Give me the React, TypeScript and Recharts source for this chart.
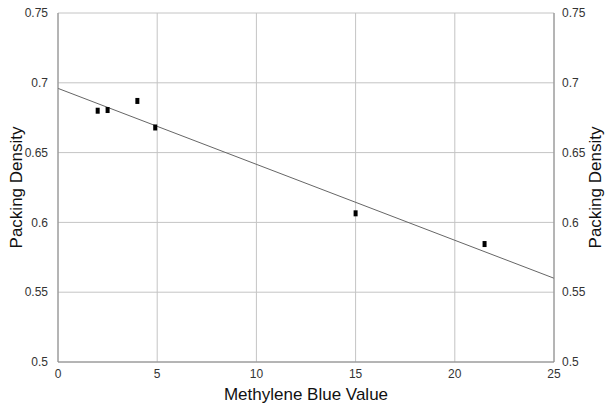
import {
  ComposedChart,
  Scatter,
  Line,
  XAxis,
  YAxis,
  CartesianGrid,
  Label,
} from 'recharts';

const mbValues = [2, 2.5, 4, 4.9, 15, 21.5];
const packingDensity = [0.68, 0.6805, 0.687, 0.668, 0.6065, 0.5845];

const trendX = [0, 25];
const trendY = [0.696, 0.56];

const xTicks = [0, 5, 10, 15, 20, 25];
const yTicks = [0.5, 0.55, 0.6, 0.65, 0.7, 0.75];

const points = mbValues.map((x, i) => ({ x, y: packingDensity[i] }));
const trend = trendX.map((x, i) => ({ x, t: trendY[i] }));

const FONT = '"Liberation Sans", Arial, sans-serif';

const Marker = (props: any) => {
  const { cx, cy } = props;
  if (cx == null || cy == null) return null;
  return <rect x={cx - 2} y={cy - 3} width={4} height={6} fill="#000" />;
};

export default function App() {
  const tick = { fontSize: 12, fill: '#333', fontFamily: FONT };
  const axisLabel = { fontSize: 17, fill: '#111', fontFamily: FONT, textAnchor: 'middle' as const };
  return (
    <div style={{ position: 'absolute', left: 0, top: 0, background: '#fff' }}>
      <ComposedChart
        width={606}
        height={403}
        margin={{ top: 13, right: 0, bottom: 0, left: 0 }}
      >
        <CartesianGrid yAxisId="left" stroke="#c4c4c4" strokeWidth={1} />
        <XAxis
          dataKey="x"
          type="number"
          domain={[0, 25]}
          ticks={xTicks}
          tick={tick}
          tickLine={false}
          axisLine={{ stroke: '#888' }}
          height={41}
          tickMargin={1}
          allowDuplicatedCategory={false}
        >
          <Label
            value="Methylene Blue Value"
            position="insideBottom"
            offset={3}
            style={{ fontSize: 17, fill: '#111', fontFamily: FONT }}
          />
        </XAxis>
        <YAxis
          yAxisId="left"
          type="number"
          domain={[0.5, 0.75]}
          ticks={yTicks}
          tick={tick}
          tickLine={false}
          axisLine={{ stroke: '#888' }}
          width={58}
          tickMargin={4}
        >
          <Label
            value="Packing Density"
            angle={-90}
            position="insideLeft"
            offset={16}
            style={axisLabel}
          />
        </YAxis>
        <YAxis
          yAxisId="right"
          orientation="right"
          type="number"
          domain={[0.5, 0.75]}
          ticks={yTicks}
          tick={tick}
          tickLine={false}
          axisLine={{ stroke: '#888' }}
          width={52}
          tickMargin={2}
        >
          <Label
            value="Packing Density"
            angle={-90}
            position="insideRight"
            offset={11}
            style={axisLabel}
          />
        </YAxis>
        <Line
          yAxisId="right"
          data={trend}
          dataKey="t"
          stroke="#666"
          strokeWidth={1}
          dot={false}
          activeDot={false}
          isAnimationActive={false}
        />
        <Scatter
          yAxisId="left"
          data={points}
          dataKey="y"
          shape={<Marker />}
          isAnimationActive={false}
        />
      </ComposedChart>
    </div>
  );
}
